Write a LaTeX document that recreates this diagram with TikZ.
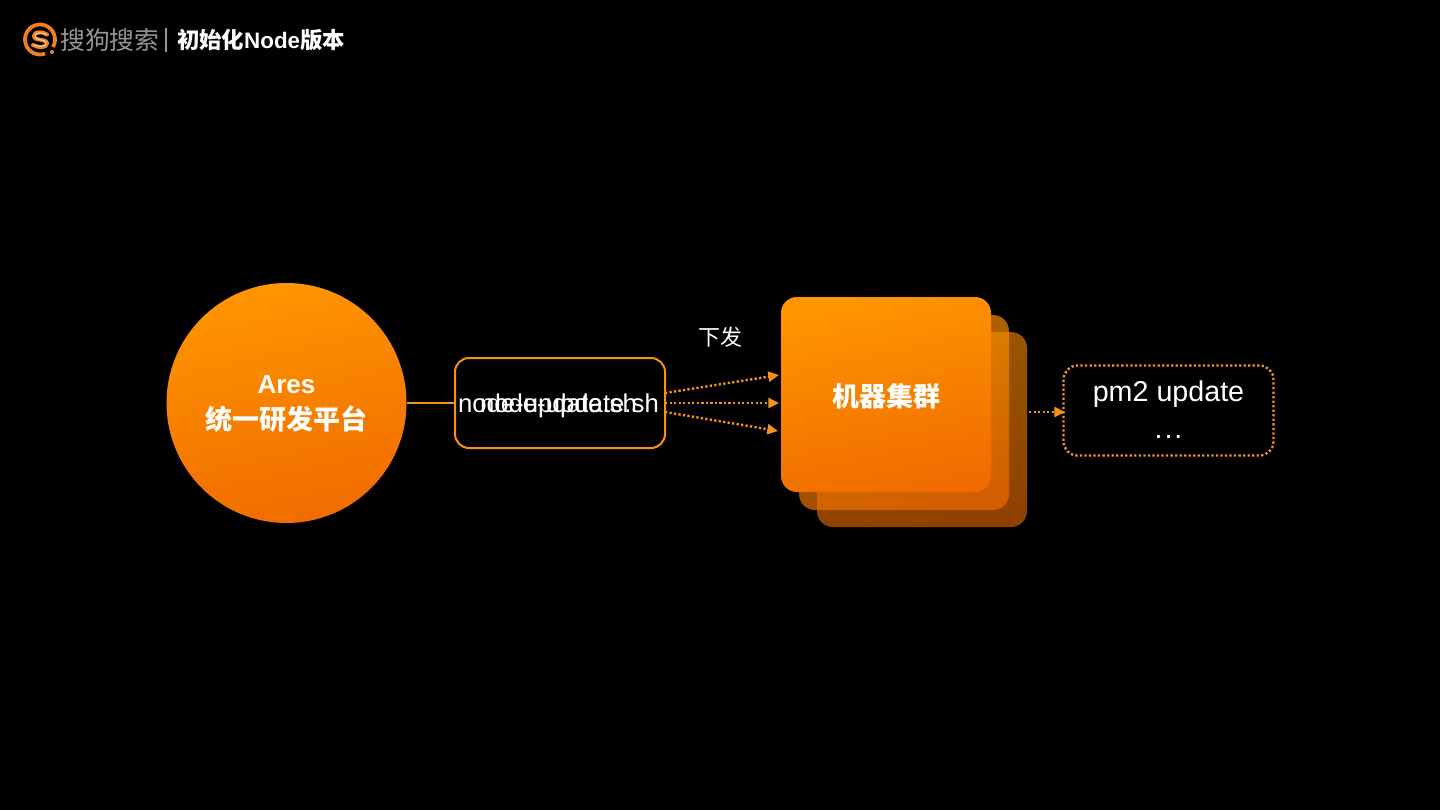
\documentclass[tikz,border=0pt]{standalone}
\usepackage{fontspec}
\setmainfont{Liberation Sans}
\newfontfamily\cjk{Noto Sans CJK SC}
\usetikzlibrary{arrows.meta,shapes.geometric}
\definecolor{acc}{HTML}{F5921A}
\definecolor{gtop}{HTML}{FF9500}
\definecolor{gbot}{HTML}{F06C00}
\definecolor{logoor}{HTML}{F07F22}
\definecolor{logohi}{HTML}{FFD9B8}
\definecolor{logogr}{HTML}{969696}
\newcommand{\fs}[1]{\fontsize{#1}{#1}\selectfont}
\tikzset{
  x=0.75pt,y=-0.75pt,
  grad/.style={shade,top color=gtop,bottom color=gbot,shading angle=12,draw=none},
  cardbox/.style={rectangle,inner sep=0pt,outer sep=0pt,minimum width=157.5pt,minimum height=146.25pt},
  sbox/.style={rectangle,rounded corners=10.5pt,draw=acc,line width=1.5pt,inner sep=0pt,outer sep=0pt,minimum width=157.5pt,minimum height=67.5pt},
  dbox/.style={sbox,line width=1.8pt,dash pattern=on 1.7pt off 1.7pt},
  wtext/.style={text=white,inner sep=0pt,outer sep=0pt,align=center},
  flow/.style={draw=acc,line width=1.8pt,dash pattern=on 1.7pt off 1.7pt,-{Triangle[length=8pt,width=7.5pt,fill=acc]}},
  smark/.style={line cap=round,line join=round},
}
\begin{document}
\begin{tikzpicture}
\useasboundingbox[fill=black] (0,0) rectangle (1440,810);

% logo
\draw[logoor,line width=2.8pt] (40,39.5) ++(70:15) arc[start angle=70,end angle=390,radius=15];
\fill[logoor] (52,52) circle[radius=2];
\draw[smark,logoor,line width=3pt] (47,34.5) .. controls (42,31) and (34,31.5) .. (34,36) .. controls (34,41.5) and (47,38) .. (47,43.5) .. controls (47,48) and (38,48) .. (33,45);
\draw[smark,logohi,line width=.8pt] (46,34.5) .. controls (42,32) and (35,32.5) .. (35,36) .. controls (35,41.5) and (46,38) .. (46,43.5) .. controls (46,47) and (38,47) .. (34,45);
\node[text=logogr,inner sep=0pt,font=\cjk\fs{18.6}] (logoT) at (110,40) {搜狗搜索};
\fill[logogr] (164.5,28) rectangle (166.5,52);
\node[wtext,anchor=west,font=\bfseries\fs{16.8}] (title) at (177,40) {{\cjk 初始化}Node{\cjk 版本}};

% stacked cards
\node[cardbox] (c3) at (922,429.5) {};
\node[cardbox] (c2) at (904,412.5) {};
\node[cardbox] (c1) at (886,394.5) {};
\path[grad,fill opacity=.6,rounded corners=12pt] (c3.north west) rectangle (c3.south east);
\path[grad,fill opacity=.68,rounded corners=12pt] (c2.north west) rectangle (c2.south east);
\path[grad,rounded corners=12pt] (c1.north west) rectangle (c1.south east);
\node[wtext,font=\cjk\bfseries\fs{20.25}] (c1t) at (886,396) {机器集群};

% platform
\node[grad,circle,inner sep=0pt,outer sep=0pt,minimum size=180pt] (ares) at (286.5,403) {};
\node[wtext,font=\bfseries\fs{19.5}] (aresA) at (286.5,384.5) {Ares};
\node[wtext,font=\cjk\bfseries\fs{20.25}] (aresB) at (286.5,419) {统一研发平台};

% script box
\node[sbox] (script) at (560,403) {};
\node[wtext,anchor=base west,font=\fs{19.3}] (s1) at (458,412) {node-update.sh};
\node[wtext,anchor=base west,font=\fs{19.3}] (s2) at (480,412) {node-update.sh};

% label
\node[wtext,font=\cjk\fs{16.5}] (lab) at (720,337) {下发};

% result box
\node[dbox] (res) at (1168.5,410.5) {};
\node[wtext,anchor=base,font=\fs{21.5}] (r1) at (1168.5,401.5) {pm2 update};
\node[wtext,anchor=base,font=\fs{21.5}] (r2) at (1168.5,438) {.\kern1.5pt.\kern1.5pt.};

% connectors
\coordinate (a1) at (779,375);
\coordinate (a2) at (779,403);
\coordinate (a3) at (778,431);
\coordinate (b1) at (665,393);
\coordinate (b3) at (665,412);
\coordinate (d1) at (1029,412);
\coordinate (d2) at (1065,412);
\draw[acc,line width=1.5pt] (ares.east) -- (script.west);
\draw[flow] (b1) -- (a1);
\draw[flow] (script.east) -- (a2);
\draw[flow] (b3) -- (a3);
\draw[flow] (d1) -- (d2);
\end{tikzpicture}
\end{document}
